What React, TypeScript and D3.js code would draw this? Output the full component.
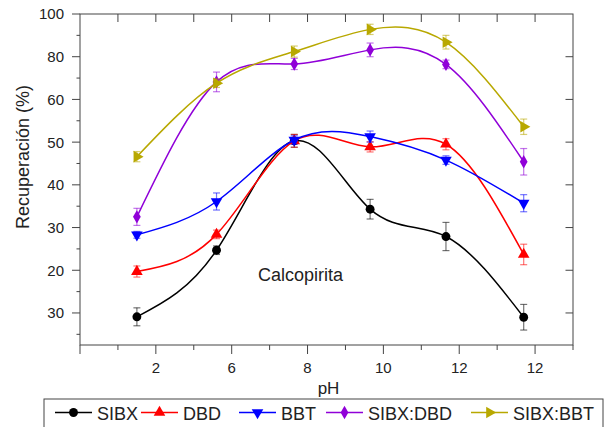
import React from 'react';
import * as d3 from 'd3';

// positions on the (linear) x axis and the y axis, tick labels as printed
const phPos = [1.5, 3.6, 5.65, 7.65, 9.65, 11.7];
const xTickValues = [2, 4, 6, 8, 10, 12];
const xTickLabels = ['2', '6', '8', '10', '12', '12'];
const yTickValues = [30, 40, 50, 60, 70, 80, 90, 100];
const yTickLabels = ['30', '20', '30', '40', '50', '60', '80', '100'];

const sibx = [29.1, 44.7, 70.3, 54.3, 47.9, 29.0];
const sibxErr = [2.1, 1.0, 1.5, 2.3, 3.3, 3.0];
const dbd = [39.7, 48.4, 70.3, 68.9, 69.5, 43.7];
const dbdErr = [1.3, 1.0, 1.5, 1.2, 1.3, 2.4];
const bbt = [48.3, 56.1, 70.5, 71.3, 65.8, 55.7];
const bbtErr = [0.8, 2.0, 1.0, 1.3, 1.0, 2.0];
const sibxDbd = [52.5, 84.1, 88.3, 91.6, 88.2, 65.4];
const sibxDbdErr = [2.0, 2.3, 1.3, 1.6, 1.0, 3.1];
const sibxBbt = [66.6, 83.8, 91.2, 96.4, 93.4, 73.6];
const sibxBbtErr = [1.2, 1.0, 1.3, 1.2, 1.6, 1.8];

const seriesNames = ['SIBX', 'DBD', 'BBT', 'SIBX:DBD', 'SIBX:BBT'];
const seriesColors = ['#000000', '#ff0000', '#0000ff', '#9000d8', '#b8a800'];

const FONT = '"Liberation Sans", Arial, sans-serif';
const W = 605;
const H = 427;
const margin = { top: 14, right: 32, bottom: 82, left: 80 };

const symbolFor = (i: number) => {
  const gen = d3.symbol();
  if (i === 0) return { d: gen.type(d3.symbolCircle).size(62)(), rot: 0 };
  if (i === 1) return { d: gen.type(d3.symbolTriangle).size(58)(), rot: 0 };
  if (i === 2) return { d: gen.type(d3.symbolTriangle).size(58)(), rot: 180 };
  if (i === 3) return { d: gen.type(d3.symbolDiamond).size(52)(), rot: 0 };
  return { d: gen.type(d3.symbolTriangle).size(58)(), rot: 90 };
};

export default function App() {
  const x = d3.scaleLinear().domain([0, 13]).range([margin.left, W - margin.right]);
  const y = d3.scaleLinear().domain([22.5, 100]).range([H - margin.bottom, margin.top]);
  const x0 = x.range()[0], x1 = x.range()[1];
  const y0 = y.range()[0], y1 = y.range()[1];

  const values = [sibx, dbd, bbt, sibxDbd, sibxBbt];
  const errs = [sibxErr, dbdErr, bbtErr, sibxDbdErr, sibxBbtErr];

  const line = d3.line<number>()
    .x((_, i) => x(phPos[i]))
    .y(d => y(d))
    .curve(d3.curveNatural);

  const xMinor = d3.range(0, 14).filter(v => v % 2 === 1);
  const xMajor = d3.range(0, 13, 2);
  const yMinor = d3.range(25, 100, 10);
  const axisColor = '#444';

  const legendText = [97, 183, 281, 368, 513];

  return (
    <svg width={W} height={H} style={{ position: 'absolute', left: 0, top: 0 }} fontFamily={FONT}>
      <rect width={W} height={H} fill="#fff" />

      {/* series */}
      {values.map((vals, s) => (
        <g key={seriesNames[s]}>
          <path d={line(vals) || ''} fill="none" stroke={seriesColors[s]} strokeWidth={1.5} />
          {vals.map((v, i) => {
            const cx = x(phPos[i]);
            const t = y(v + errs[s][i]);
            const b = y(v - errs[s][i]);
            return (
              <g key={i} stroke={seriesColors[s]} strokeOpacity={0.55} strokeWidth={1.2}>
                <line x1={cx} x2={cx} y1={t} y2={b} />
                <line x1={cx - 3.5} x2={cx + 3.5} y1={t} y2={t} />
                <line x1={cx - 3.5} x2={cx + 3.5} y1={b} y2={b} />
              </g>
            );
          })}
          {vals.map((v, i) => {
            const sym = symbolFor(s);
            return (
              <path key={'m' + i} d={sym.d || ''} fill={seriesColors[s]}
                transform={`translate(${x(phPos[i])},${y(v)}) rotate(${sym.rot})`} />
            );
          })}
        </g>
      ))}

      {/* frame */}
      <rect x={x0} y={y1} width={x1 - x0} height={y0 - y1} fill="none" stroke={axisColor} strokeWidth={1} />

      {/* bottom axis */}
      {xMajor.map(v => (
        <line key={'xb' + v} x1={x(v)} x2={x(v)} y1={y0} y2={y0 + 9} stroke={axisColor} />
      ))}
      {xMinor.map(v => (
        <line key={'xm' + v} x1={x(v)} x2={x(v)} y1={y0} y2={y0 + 5} stroke={axisColor} />
      ))}
      {xTickValues.map((v, i) => (
        <text key={'xl' + v} x={x(v)} y={y0 + 28} textAnchor="middle" fontSize={15} fill="#222">{xTickLabels[i]}</text>
      ))}
      {/* top axis ticks (inward) */}
      {d3.range(1, 13).map(v => (
        <line key={'xt' + v} x1={x(v)} x2={x(v)} y1={y1} y2={y1 + 8} stroke={axisColor} />
      ))}

      {/* left axis */}
      {yTickValues.map(v => (
        <line key={'yl' + v} x1={x0 - 8} x2={x0} y1={y(v)} y2={y(v)} stroke={axisColor} />
      ))}
      {yMinor.map(v => (
        <line key={'ym' + v} x1={x0 - 3.5} x2={x0} y1={y(v)} y2={y(v)} stroke={axisColor} />
      ))}
      {yTickValues.map((v, i) => (
        <text key={'ylt' + v} x={x0 - 16} y={y(v)} dy="0.36em" textAnchor="end" fontSize={15} fill="#222">{yTickLabels[i]}</text>
      ))}
      {/* right axis ticks (inward) */}
      {yTickValues.slice(0, -1).map(v => (
        <line key={'yr' + v} x1={x1 - 7.5} x2={x1} y1={y(v)} y2={y(v)} stroke={axisColor} />
      ))}

      {/* titles */}
      <text x={(x0 + x1) / 2 + 2} y={y0 + 49} textAnchor="middle" fontSize={17} fill="#222">pH</text>
      <text transform={`translate(29,157) rotate(-90)`} textAnchor="middle" fontSize={18} fill="#222">Recuperación (%)</text>
      <text x={258} y={281} fontSize={18} fill="#222">Calcopirita</text>

      {/* legend */}
      <rect x={44} y={399} width={559} height={50} fill="none" stroke={axisColor} strokeWidth={1} />
      {seriesNames.map((name, s) => {
        const tx = legendText[s];
        const sym = symbolFor(s);
        const lx0 = tx - 42;
        const lx1 = tx - 5;
        return (
          <g key={'lg' + name}>
            <line x1={lx0} x2={lx1} y1={412.5} y2={412.5} stroke={seriesColors[s]} strokeWidth={1.5} />
            <path d={sym.d || ''} fill={seriesColors[s]}
              transform={`translate(${(lx0 + lx1) / 2},${412.5}) rotate(${sym.rot})`} />
            <text x={tx} y={419.5} fontSize={18} fill="#222">{name}</text>
          </g>
        );
      })}
    </svg>
  );
}
